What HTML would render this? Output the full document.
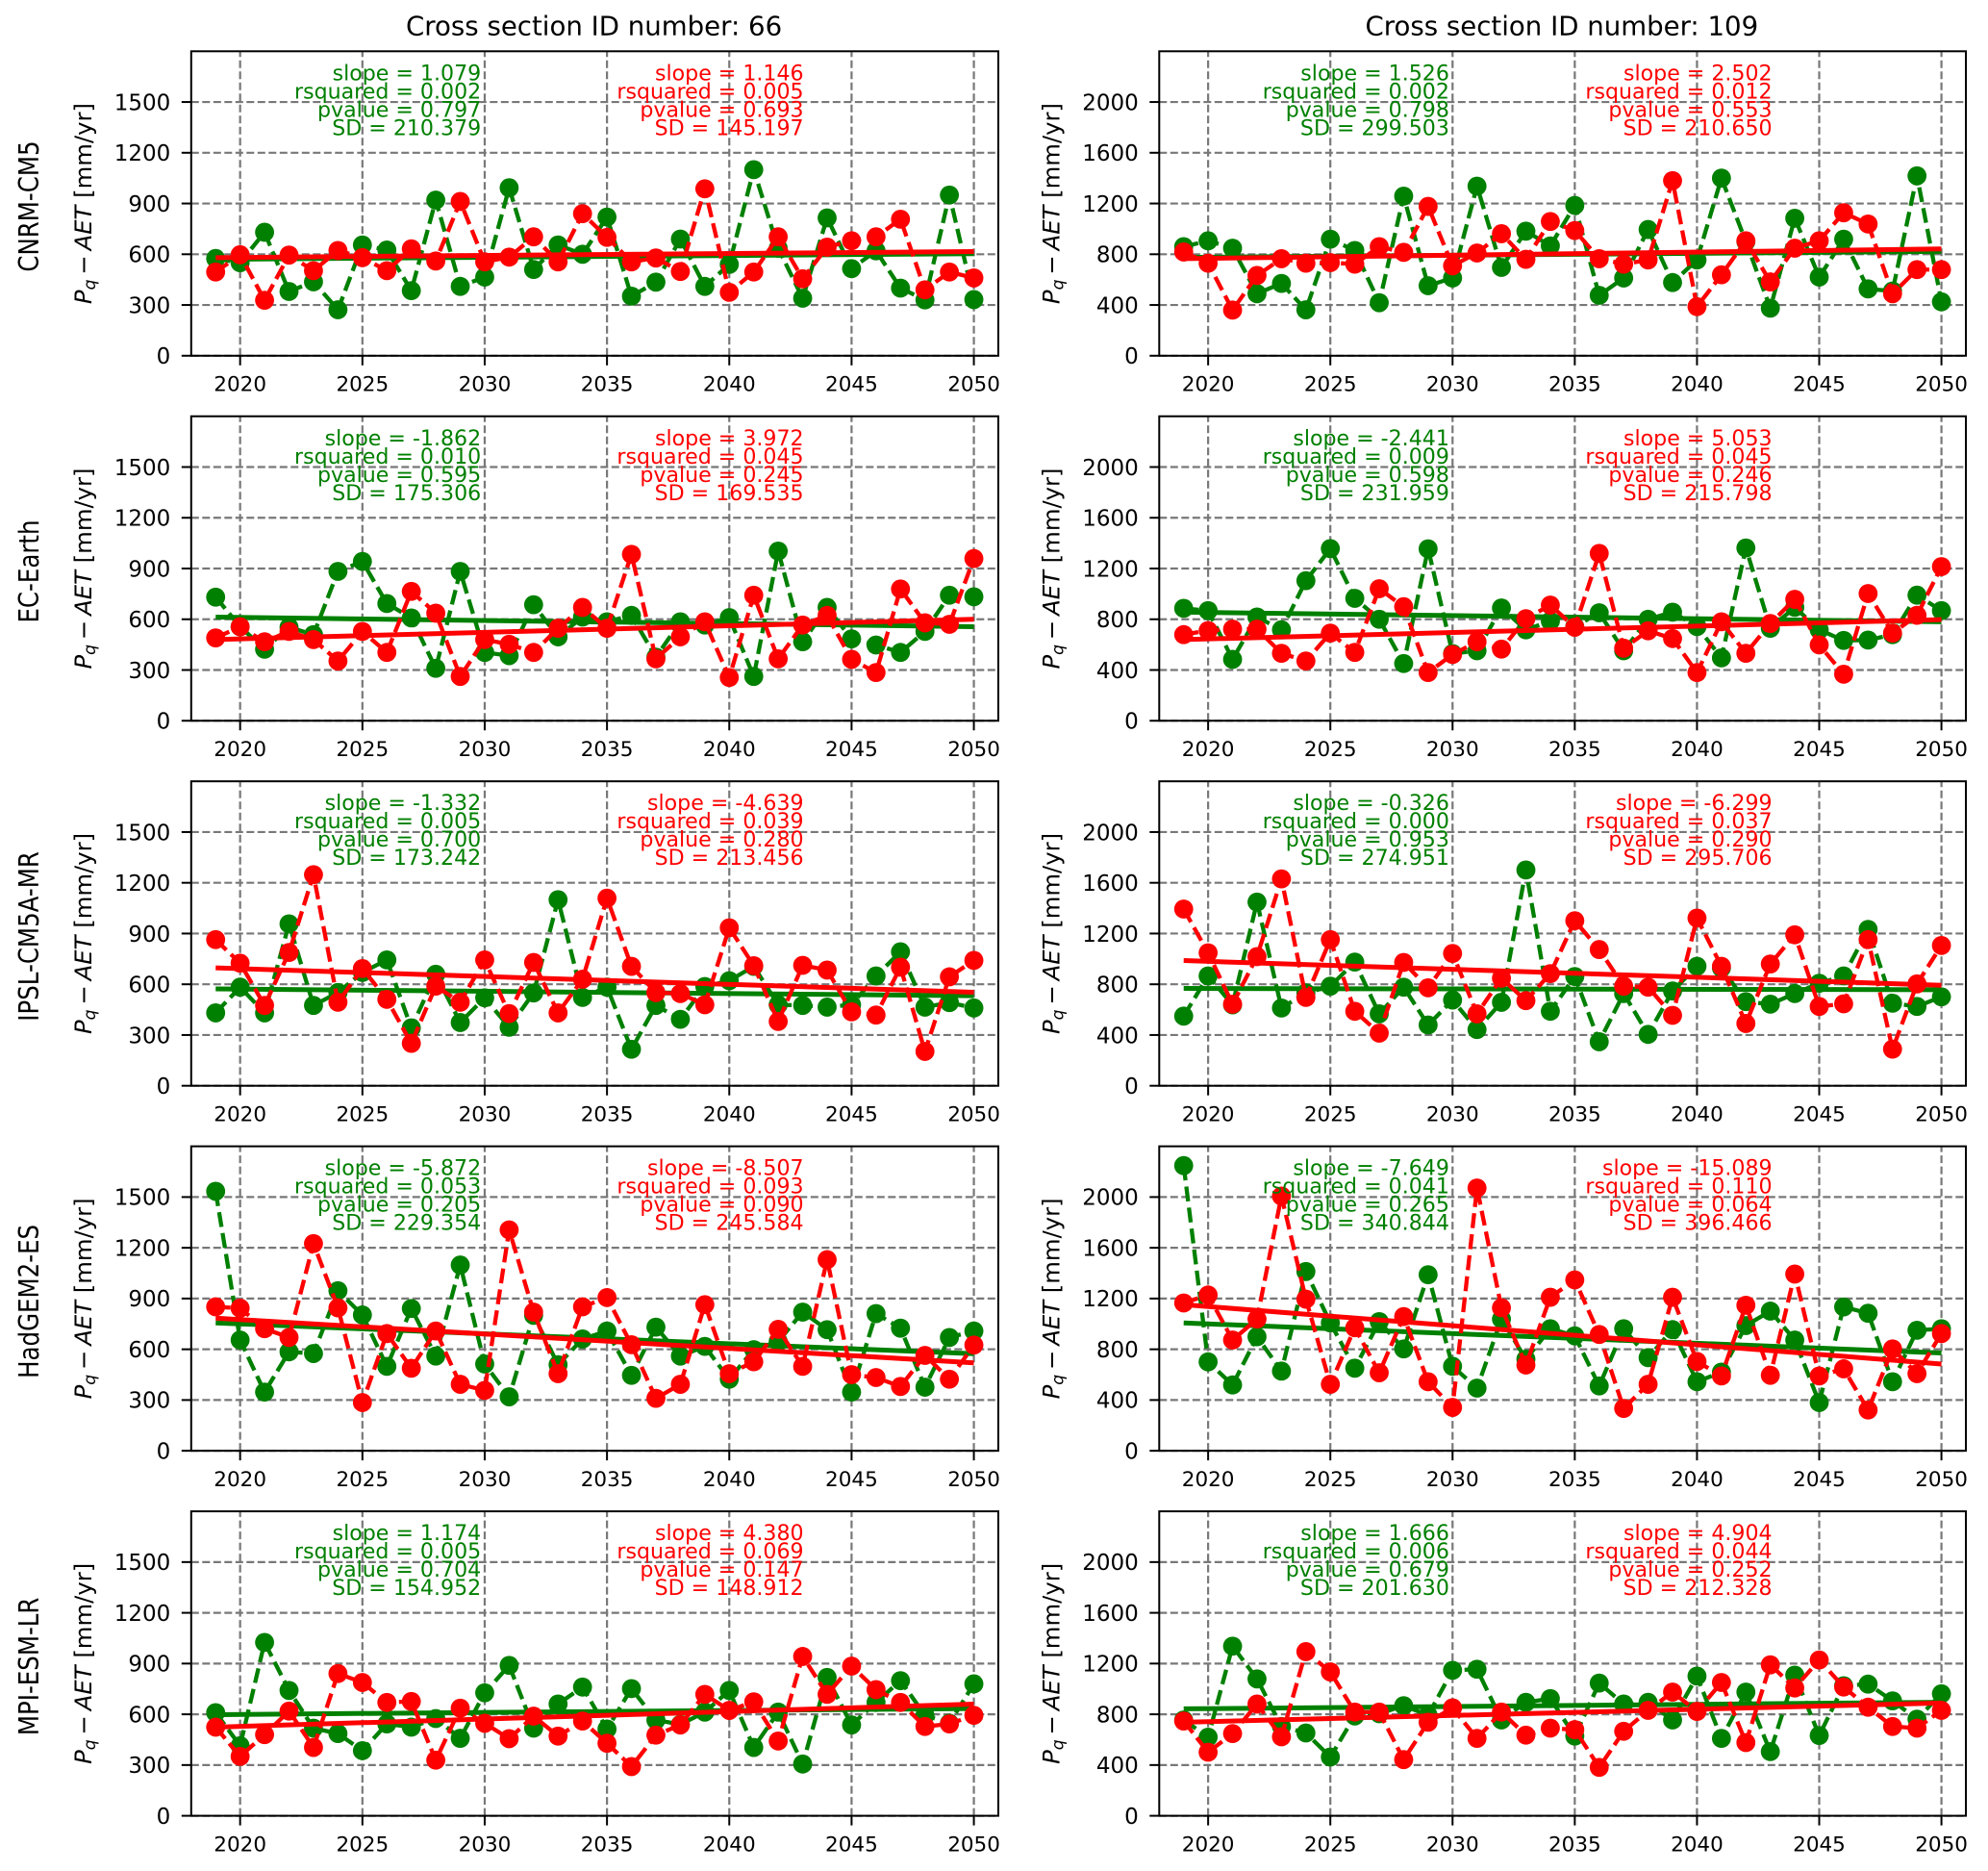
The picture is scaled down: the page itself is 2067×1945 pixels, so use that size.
<!DOCTYPE html>
<html lang="en">
<head>
<meta charset="utf-8">
<title>Pq - AET projections by climate model and cross section</title>
<style>
html,body{margin:0;padding:0;background:#fff;width:2067px;height:1945px;overflow:hidden}
svg{display:block;font-family:"DejaVu Sans","Liberation Sans",sans-serif}
</style>
</head>
<body>
<svg id="chart" xmlns="http://www.w3.org/2000/svg" width="2067" height="1945" viewBox="0 0 2067 1945">
<rect x="0" y="0" width="2067" height="1945" fill="#ffffff"/>
</svg>
<script>
const years = [2019,2020,2021,2022,2023,2024,2025,2026,2027,2028,2029,2030,2031,2032,2033,2034,2035,2036,2037,2038,2039,2040,2041,2042,2043,2044,2045,2046,2047,2048,2049,2050];
const xTickLabels = [2020,2025,2030,2035,2040,2045,2050];
const yTickLabels66 = [0,300,600,900,1200,1500];
const yTickLabels109 = [0,400,800,1200,1600,2000];
const crossSectionIds = [66,109];
const yLimits = [1800,2400];
const models = ['CNRM-CM5','EC-Earth','IPSL-CM5A-MR','HadGEM2-ES','MPI-ESM-LR'];

const greenCnrm66 = [575,550,730,380,437,272,655,625,385,920,410,465,993,510,655,600,820,352,435,690,410,540,1100,635,340,815,515,620,400,330,950,332];
const redCnrm66 = [495,597,328,595,503,622,580,503,632,560,912,555,583,703,555,840,700,555,578,498,987,375,495,703,455,642,680,703,807,390,495,460];
const trendGreenCnrm66 = [570,603];
const trendRedCnrm66 = [580,616];
const statsGreenCnrm66 = ['1.079','0.002','0.797','210.379'];
const statsRedCnrm66 = ['1.146','0.005','0.693','145.197'];

const greenCnrm109 = [860,906,848,489,570,362,919,830,418,1258,552,613,1337,696,982,866,1185,476,613,995,577,755,1400,899,375,1084,620,919,527,510,1418,425];
const redCnrm109 = [818,729,360,633,765,729,734,722,860,815,1177,709,810,962,760,1058,987,765,722,755,1380,387,638,906,582,848,906,1127,1038,489,679,679];
const trendGreenCnrm109 = [775,822];
const trendRedCnrm109 = [765,842];
const statsGreenCnrm109 = ['1.526','0.002','0.798','299.503'];
const statsRedCnrm109 = ['2.502','0.012','0.553','210.650'];

const greenEc66 = [731,556,423,553,509,883,942,693,608,310,883,404,385,686,496,613,585,623,376,585,566,610,262,1003,467,670,484,448,404,528,742,733];
const redEc66 = [490,556,467,528,480,353,528,404,765,636,262,480,452,404,547,670,547,984,366,496,585,256,742,366,566,623,363,285,779,579,570,959];
const trendGreenEc66 = [613,556];
const trendRedEc66 = [480,600];
const statsGreenEc66 = ['-1.862','0.010','0.595','175.306'];
const statsRedEc66 = ['3.972','0.045','0.245','169.535'];

const greenEc109 = [886,868,484,818,717,1104,1357,965,800,451,1355,530,552,889,717,785,742,851,552,800,856,742,496,1362,729,894,717,633,636,679,990,868];
const redEc109 = [679,711,722,722,532,471,691,539,1041,899,380,522,623,565,805,912,737,1319,572,709,648,380,780,532,767,957,598,367,1003,691,831,1215];
const trendGreenEc109 = [856,780];
const trendRedEc109 = [640,797];
const statsGreenEc109 = ['-2.441','0.009','0.598','231.959'];
const statsRedEc109 = ['5.053','0.045','0.246','215.798'];

const greenIpsl66 = [431,583,431,957,475,551,670,744,342,659,374,520,346,549,1100,522,583,216,475,393,587,621,706,479,475,465,479,649,792,465,492,460];
const redIpsl66 = [864,725,475,788,1248,494,693,511,251,589,494,744,427,729,431,630,1109,706,551,545,479,934,710,380,712,684,437,418,701,203,644,741];
const trendGreenIpsl66 = [573,532];
const trendRedIpsl66 = [697,553];
const statsGreenIpsl66 = ['-1.332','0.005','0.700','173.242'];
const statsRedIpsl66 = ['-4.639','0.039','0.280','213.456'];

const greenIpsl109 = [549,866,638,1448,613,732,785,975,567,777,479,676,443,658,1701,587,861,347,727,405,747,942,929,663,643,727,808,866,1233,651,625,701];
const redIpsl109 = [1393,1048,643,1018,1631,696,1152,587,415,972,772,1043,567,848,671,884,1301,1074,785,777,555,1322,942,491,960,1190,625,646,1152,289,803,1106];
const trendGreenIpsl109 = [767,757];
const trendRedIpsl109 = [987,792];
const statsGreenIpsl109 = ['-0.326','0.000','0.953','274.951'];
const statsRedIpsl109 = ['-6.299','0.037','0.290','295.706'];

const greenHad66 = [1534,655,347,585,575,946,803,499,841,560,1098,513,319,801,509,661,708,446,731,560,617,423,598,646,820,716,347,811,725,376,670,708];
const redHad66 = [851,843,722,670,1225,845,285,693,488,708,393,357,1306,820,456,851,906,627,310,393,864,456,526,718,499,1130,450,433,380,564,423,625];
const trendGreenHad66 = [756,574];
const trendRedHad66 = [784,520];
const statsGreenHad66 = ['-5.872','0.053','0.205','229.354'];
const statsRedHad66 = ['-8.507','0.093','0.090','245.584'];

const greenHad109 = [2248,701,519,899,628,1413,1008,651,1018,803,1388,666,494,1038,722,962,906,511,962,734,955,544,620,987,1101,873,380,1134,1084,544,950,962];
const redHad109 = [1165,1228,873,1038,2008,1195,524,970,615,1058,544,342,2071,1127,676,1210,1347,917,334,524,1210,704,590,1147,595,1393,590,646,322,803,608,924];
const trendGreenHad109 = [1008,771];
const trendRedHad109 = [1152,684];
const statsGreenHad109 = ['-7.649','0.041','0.265','340.844'];
const statsRedHad109 = ['-15.089','0.110','0.064','396.466'];

const greenMpi66 = [610,414,1025,741,518,486,385,543,524,575,458,727,889,518,661,761,513,752,566,540,613,741,404,613,306,818,537,670,799,594,547,780];
const redMpi66 = [524,351,480,619,404,841,788,670,676,329,636,547,456,589,471,560,429,291,477,537,718,623,674,442,942,718,885,746,670,528,543,594];
const trendGreenMpi66 = [598,634];
const trendRedMpi66 = [524,660];
const statsGreenMpi66 = ['1.174','0.005','0.704','154.952'];
const statsRedMpi66 = ['4.380','0.069','0.147','148.912'];

const greenMpi109 = [755,620,1337,1079,704,653,463,787,805,868,792,1147,1155,755,894,924,628,1046,881,894,755,1101,610,975,506,1109,633,1025,1038,906,762,962];
const redMpi109 = [747,501,648,881,623,1294,1134,818,818,443,737,851,610,818,636,691,679,382,666,831,975,823,1051,577,1190,1008,1228,1015,856,704,691,831];
const trendGreenMpi109 = [843,895];
const trendRedMpi109 = [737,889];
const statsGreenMpi109 = ['1.666','0.006','0.679','201.630'];
const statsRedMpi109 = ['4.904','0.044','0.252','212.328'];

const panels = [
  [greenCnrm66,redCnrm66,trendGreenCnrm66,trendRedCnrm66,statsGreenCnrm66,statsRedCnrm66,greenCnrm109,redCnrm109,trendGreenCnrm109,trendRedCnrm109,statsGreenCnrm109,statsRedCnrm109],
  [greenEc66,redEc66,trendGreenEc66,trendRedEc66,statsGreenEc66,statsRedEc66,greenEc109,redEc109,trendGreenEc109,trendRedEc109,statsGreenEc109,statsRedEc109],
  [greenIpsl66,redIpsl66,trendGreenIpsl66,trendRedIpsl66,statsGreenIpsl66,statsRedIpsl66,greenIpsl109,redIpsl109,trendGreenIpsl109,trendRedIpsl109,statsGreenIpsl109,statsRedIpsl109],
  [greenHad66,redHad66,trendGreenHad66,trendRedHad66,statsGreenHad66,statsRedHad66,greenHad109,redHad109,trendGreenHad109,trendRedHad109,statsGreenHad109,statsRedHad109],
  [greenMpi66,redMpi66,trendGreenMpi66,trendRedMpi66,statsGreenMpi66,statsRedMpi66,greenMpi109,redMpi109,trendGreenMpi109,trendRedMpi109,statsGreenMpi109,statsRedMpi109]
];
const statLabels = ['slope','rsquared','pvalue','SD'];

const NS = 'http://www.w3.org/2000/svg';
const svg = document.getElementById('chart');
const GREEN = '#008000', RED = '#ff0000', GRID = '#787878';
const PANEL_H = 316.5, ROW_START = 53.3, ROW_STEP = 379.45;
const COL_LEFT = [198.8, 1205.3], COL_RIGHT = [1038, 2044];
const XMIN = 2018, XMAX = 2051;

function mk(tag, attrs, parent) {
  const el = document.createElementNS(NS, tag);
  for (const k in attrs) el.setAttribute(k, attrs[k]);
  parent.appendChild(el);
  return el;
}
function xAxis(col) {
  const l = COL_LEFT[col], r = COL_RIGHT[col];
  return v => l + (v - XMIN) / (XMAX - XMIN) * (r - l);
}
function yAxis(row, col) {
  const top = ROW_START + ROW_STEP * row, limit = yLimits[col];
  return v => top + PANEL_H - v / limit * PANEL_H;
}

function drawSeries(g, seriesKey, color, values, trend, x, y, prefix) {
  const pts = values.map((v, i) => x(years[i]).toFixed(2) + ',' + y(v).toFixed(2)).join(' ');
  const line = mk('polyline', {points: pts, fill: 'none', stroke: color, 'stroke-width': 4.3, 'stroke-dasharray': '15.5 6.5'}, g);
  
  
  values.forEach((v, i) => {
    const c = mk('circle', {cx: x(years[i]).toFixed(2), cy: y(v).toFixed(2), r: 9.9, fill: color}, g);
    
    
  });
  const t = mk('line', {x1: x(years[0]), y1: y(trend[0]), x2: x(years[years.length - 1]), y2: y(trend[1]), stroke: color, 'stroke-width': 5}, g);
  
  
}

function drawStats(g, seriesKey, color, stats, rightX, top, prefix) {
  stats.forEach((s, i) => {
    const t = mk('text', {x: rightX, y: top + 30 + i * 19, 'text-anchor': 'end', fill: color, 'font-size': 22.1}, g);
    t.textContent = statLabels[i] + ' = ' + s;
    
    
  });
}

models.forEach((model, row) => {
  [0, 1].forEach(col => {
    const d = panels[row];
    const off = col * 6;
    const id = crossSectionIds[col];
    const prefix = model.toLowerCase() + '-' + id;
    const x = xAxis(col), y = yAxis(row, col);
    const left = COL_LEFT[col], right = COL_RIGHT[col];
    const top = ROW_START + ROW_STEP * row, bottom = top + PANEL_H;
    const yTicks = col === 0 ? yTickLabels66 : yTickLabels109;

    const g = mk('g', {}, svg);
    
    

    yTicks.forEach(v => {
      const gl = mk('line', {x1: left, x2: right, y1: y(v), y2: y(v), stroke: GRID, 'stroke-width': 2.2, 'stroke-dasharray': '8 3.5'}, g);
      
      
    });
    xTickLabels.forEach(v => {
      const gl = mk('line', {x1: x(v), x2: x(v), y1: bottom, y2: top, stroke: GRID, 'stroke-width': 2.2, 'stroke-dasharray': '8 3.5'}, g);
      
      
    });

    drawSeries(g, 'green', GREEN, d[off], d[off + 2], x, y, prefix);
    drawSeries(g, 'red', RED, d[off + 1], d[off + 3], x, y, prefix);

    const greenRight = col === 0 ? 500.2 : 1506.9;
    const redRight = col === 0 ? 835.6 : 1842.6;
    drawStats(g, 'green', GREEN, d[off + 4], greenRight, top, prefix);
    drawStats(g, 'red', RED, d[off + 5], redRight, top, prefix);

    const frame = mk('rect', {x: left, y: top, width: right - left, height: PANEL_H, fill: 'none', stroke: '#000', 'stroke-width': 2}, g);
    
    

    yTicks.forEach(v => {
      const tk = mk('line', {x1: left - 10, x2: left, y1: y(v), y2: y(v), stroke: '#000', 'stroke-width': 2}, g);
      
      
      const lb = mk('text', {x: left - 21.5, y: y(v) + 8.3, 'text-anchor': 'end', 'font-size': 23, fill: '#000'}, g);
      lb.textContent = v;
      
      
    });
    xTickLabels.forEach(v => {
      const tk = mk('line', {x1: x(v), x2: x(v), y1: bottom, y2: bottom + 10, stroke: '#000', 'stroke-width': 2}, g);
      
      
      const lb = mk('text', {x: x(v), y: bottom + 36.7, 'text-anchor': 'middle', 'font-size': 21.5, fill: '#000'}, g);
      lb.textContent = v;
      
      
    });

    const yl = mk('text', {transform: 'translate(' + (left - 103.8) + ',' + (top + PANEL_H / 2) + ') rotate(-90)', 'text-anchor': 'middle', 'font-size': 24.3, fill: '#000'}, g);
    
    
    const s1 = mk('tspan', {'font-style': 'italic'}, yl);
    s1.textContent = 'P';
    const s2 = mk('tspan', {'font-style': 'italic', 'font-size': 17.2, dy: 4}, yl);
    s2.textContent = 'q';
    const s3 = mk('tspan', {dy: -4}, yl);
    s3.textContent = '\u2009\u2212\u2009';
    const s4 = mk('tspan', {'font-style': 'italic'}, yl);
    s4.textContent = 'AET';
    const s5 = mk('tspan', {}, yl);
    s5.textContent = ' [mm/yr]';

    if (col === 0) {
      const ml = mk('text', {transform: 'translate(40,' + (top + PANEL_H / 2 + 3) + ') scale(1.15,1) rotate(-90)', 'text-anchor': 'middle', 'font-size': 24.5, fill: '#000'}, g);
      ml.textContent = model;
      
      
    }
    if (row === 0) {
      const ti = mk('text', {x: (left + right) / 2 - 0.8, y: 36.7, 'text-anchor': 'middle', 'font-size': 27.6, fill: '#000'}, g);
      ti.textContent = 'Cross section ID number: ' + id;
      
      
    }
  });
});
</script>
</body>
</html>
